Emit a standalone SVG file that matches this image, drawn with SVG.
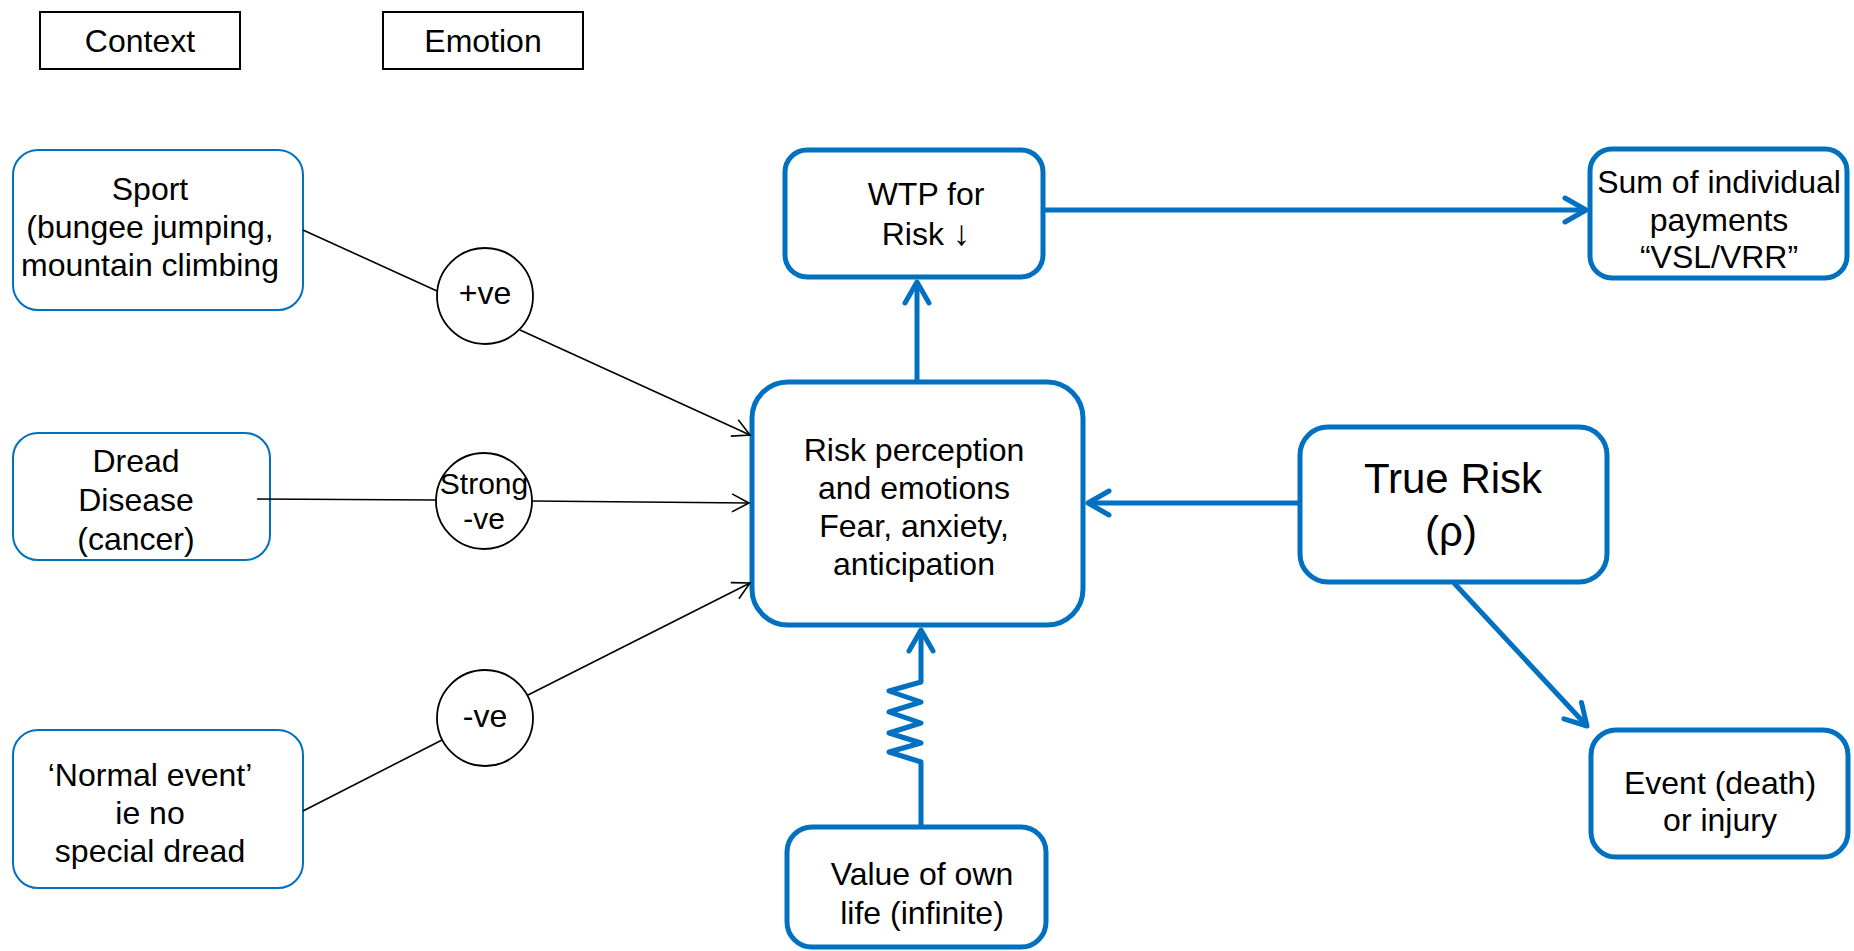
<svg xmlns="http://www.w3.org/2000/svg" width="1854" height="951" viewBox="0 0 1854 951">
<style>
text{font-family:"Liberation Sans",Arial,sans-serif;font-size:32px;fill:#000;text-anchor:middle}
.lbl{fill:#fff;stroke:#000;stroke-width:2}
.thin{fill:#fff;stroke:#0070C0;stroke-width:2}
.thick{fill:#fff;stroke:#0070C0;stroke-width:5}
.circ{fill:#fff;stroke:#000;stroke-width:1.8}
.bl{fill:none;stroke:#000;stroke-width:1.6}
.bu{fill:none;stroke:#0070C0;stroke-width:5;stroke-linejoin:round}
.big{font-size:42px}
</style>
<defs>
<marker id="ab" markerUnits="userSpaceOnUse" markerWidth="30" markerHeight="30" refX="0" refY="0" orient="auto" overflow="visible">
<path d="M-17,-9 L0,0 L-17,9" fill="none" stroke="#000" stroke-width="1.6"/>
</marker>
<marker id="au" markerUnits="userSpaceOnUse" markerWidth="40" markerHeight="40" refX="0" refY="0" orient="auto" overflow="visible">
<path d="M-21,-12 L0,0 L-21,12" fill="none" stroke="#0070C0" stroke-width="5" stroke-linecap="round" stroke-linejoin="round"/>
</marker>
</defs>

<g id="context"><rect class="lbl" x="40" y="12" width="200" height="57"/><text x="140" y="52">Context</text></g>
<g id="emotion"><rect class="lbl" x="383" y="12" width="200" height="57"/><text x="483" y="52">Emotion</text></g>

<g id="sport"><rect class="thin" x="13" y="150" width="290" height="160" rx="25"/>
<text x="150" y="200">Sport</text><text x="150" y="238">(bungee jumping,</text><text x="150" y="276">mountain climbing</text></g>

<g id="dread"><rect class="thin" x="13" y="433" width="257" height="127" rx="25"/>
<text x="136" y="472">Dread</text><text x="136" y="511">Disease</text><text x="136" y="550">(cancer)</text></g>

<g id="normal"><rect class="thin" x="13" y="730" width="290" height="158" rx="25"/>
<text x="150" y="786">‘Normal event’</text><text x="150" y="824">ie no</text><text x="150" y="862">special dread</text></g>

<g id="pos"><circle class="circ" cx="485" cy="296" r="48"/><text x="485" y="304">+ve</text></g>
<g id="strong"><circle class="circ" cx="484" cy="501" r="48"/><text x="484" y="494" style="font-size:30px">Strong</text><text x="484" y="529" style="font-size:30px">-ve</text></g>
<g id="neg"><circle class="circ" cx="485" cy="718" r="48"/><text x="485" y="727">-ve</text></g>

<g id="perception"><rect class="thick" x="752" y="382" width="331" height="243" rx="36"/>
<text x="914" y="461">Risk perception</text><text x="914" y="499">and emotions</text><text x="914" y="537">Fear, anxiety,</text><text x="914" y="575">anticipation</text></g>

<g id="wtp"><rect class="thick" x="785" y="150" width="258" height="127" rx="22"/>
<text x="926" y="205">WTP for</text><text x="926" y="245">Risk <tspan style="font-size:35px">↓</tspan></text></g>

<g id="sum"><rect class="thick" x="1590" y="149" width="257" height="129" rx="22"/>
<text x="1719" y="193">Sum of individual</text><text x="1719" y="231">payments</text><text x="1719" y="268">“VSL/VRR”</text></g>

<g id="truerisk"><rect class="thick" x="1300" y="427" width="307" height="155" rx="28"/>
<text class="big" x="1453" y="493">True Risk</text><text class="big" x="1451" y="546">(ρ)</text></g>

<g id="event"><rect class="thick" x="1591" y="730" width="257" height="127" rx="25"/>
<text x="1720" y="794">Event (death)</text><text x="1720" y="831">or injury</text></g>

<g id="value"><rect class="thick" x="787" y="827" width="259" height="120" rx="25"/>
<text x="922" y="885">Value of own</text><text x="922" y="924">life (infinite)</text></g>

<g id="connectors">
<line class="bl" x1="303" y1="230" x2="437" y2="291"/>
<line class="bl" x1="520" y1="330" x2="750" y2="435" marker-end="url(#ab)"/>
<line class="bl" x1="257" y1="499" x2="436" y2="500"/>
<line class="bl" x1="532" y1="501" x2="749" y2="503" marker-end="url(#ab)"/>
<line class="bl" x1="303" y1="811" x2="442" y2="740"/>
<line class="bl" x1="528" y1="695" x2="750" y2="583" marker-end="url(#ab)"/>
<line class="bu" x1="917" y1="382" x2="917" y2="282" marker-end="url(#au)"/>
<line class="bu" x1="1043" y1="210" x2="1586" y2="210" marker-end="url(#au)"/>
<line class="bu" x1="1300" y1="503" x2="1088" y2="503" marker-end="url(#au)"/>
<line class="bu" x1="1454" y1="583" x2="1587" y2="726" marker-end="url(#au)"/>
<polyline class="bu" points="921,827 921,762 889,752 921,743 889,733 921,723 889,712 921,702 889,691 921,682 921,630" marker-end="url(#au)"/>
</g>
</svg>
